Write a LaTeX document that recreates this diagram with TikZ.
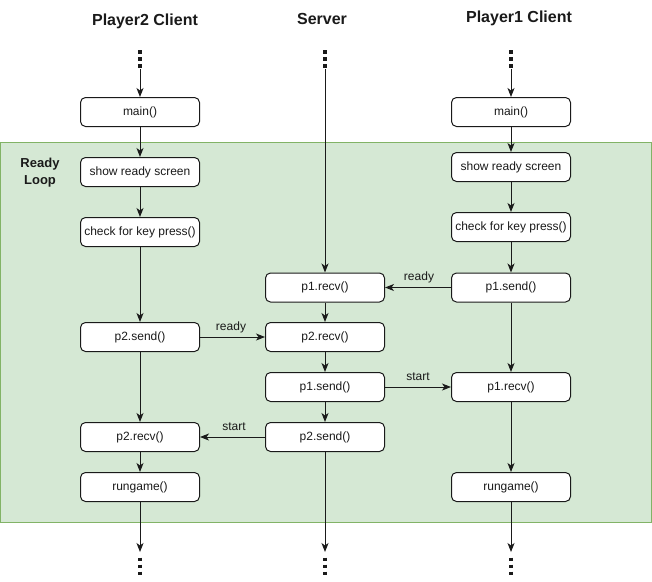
\documentclass[tikz,border=0pt]{standalone}
\usepackage{fontspec}
\setmainfont{Liberation Sans}
\usetikzlibrary{arrows.meta}
\definecolor{loopfill}{HTML}{D5E8D4}
\definecolor{loopdraw}{HTML}{82B366}
\definecolor{ink}{HTML}{1A1A1A}
\begin{document}
\begin{tikzpicture}[x=1pt,y=-1pt,
 box/.style={draw=ink, line width=1pt, fill=white, rounded corners=5pt, minimum width=119pt, minimum height=29pt, inner sep=0pt, text=ink, font=\fontsize{12}{14}\selectfont},
 flow/.style={draw=ink, line width=1pt, -{Stealth[length=9pt,width=7pt,inset=2.5pt]}},
 dotline/.style={draw=ink, line width=3.5pt, dash pattern=on 3.5pt off 3.5pt},
 title/.style={font=\fontsize{16}{19}\selectfont\bfseries, text=ink},
 lbl/.style={font=\fontsize{12}{14}\selectfont, text=ink, inner sep=0pt}]
\useasboundingbox (0,0) rectangle (652,581);
\fill[white] (0,0) rectangle (652,581);
% ready loop region
\draw[fill=loopfill, draw=loopdraw, line width=1pt] (0.5,142) rectangle (651,522);
\node[font=\fontsize{13}{17}\selectfont\bfseries, align=center, text=ink] (rl) at (40,173) {Ready\\Loop};
% titles
\node[title] (t2) at (145,21) {Player2 Client};
\node[title] (ts) at (322,19) {Server};
\node[title] (t1) at (519,18) {Player1 Client};
% left column (Player2)
\node[box] (lmain) at (140,112) {main()};
\node[box] (lshow) at (140,172) {show ready screen};
\node[box] (lchk) at (140,232) {check for key press()};
\node[box] (lsend) at (140,337) {p2.send()};
\node[box] (lrecv) at (140,437) {p2.recv()};
\node[box] (lrun) at (140,487) {rungame()};
% server
\node[box] (s1r) at (325,287.5) {p1.recv()};
\node[box] (s2r) at (325,337) {p2.recv()};
\node[box] (s1s) at (325,387) {p1.send()};
\node[box] (s2s) at (325,437) {p2.send()};
% right column (Player1)
\node[box] (rmain) at (511,112) {main()};
\node[box] (rshow) at (511,167) {show ready screen};
\node[box] (rchk) at (511,227) {check for key press()};
\node[box] (rsend) at (511,287.5) {p1.send()};
\node[box] (rrecv) at (511,387) {p1.recv()};
\node[box] (rrun) at (511,487) {rungame()};
% top dots and entry coordinates
\coordinate (ld1) at (140,50); \coordinate (ld2) at (140,68); \coordinate (la) at (140,69);
\coordinate (sd1) at (325,50); \coordinate (sd2) at (325,68); \coordinate (sa) at (325,69);
\coordinate (rd1) at (511,50); \coordinate (rd2) at (511,68); \coordinate (ra) at (511,69);
\draw[dotline] (ld1) -- (ld2);
\draw[dotline] (sd1) -- (sd2);
\draw[dotline] (rd1) -- (rd2);
% bottom coordinates and dots
\coordinate (lb) at (140,552); \coordinate (lb1) at (140,557.5); \coordinate (lb2) at (140,578);
\coordinate (sb) at (325,552); \coordinate (sb1) at (325,557.5); \coordinate (sb2) at (325,578);
\coordinate (rb) at (511,552); \coordinate (rb1) at (511,557.5); \coordinate (rb2) at (511,578);
\draw[dotline] (lb1) -- (lb2);
\draw[dotline] (sb1) -- (sb2);
\draw[dotline] (rb1) -- (rb2);
% left flow
\draw[flow] (la) -- (lmain);
\draw[flow] (lmain) -- (lshow);
\draw[flow] (lshow) -- (lchk);
\draw[flow] (lchk) -- (lsend);
\draw[flow] (lsend) -- (lrecv);
\draw[flow] (lrecv) -- (lrun);
\draw[flow] (lrun) -- (lb);
% server flow
\draw[flow] (sa) -- (s1r);
\draw[flow] (s1r) -- (s2r);
\draw[flow] (s2r) -- (s1s);
\draw[flow] (s1s) -- (s2s);
\draw[flow] (s2s) -- (sb);
% right flow
\draw[flow] (ra) -- (rmain);
\draw[flow] (rmain) -- (rshow);
\draw[flow] (rshow) -- (rchk);
\draw[flow] (rchk) -- (rsend);
\draw[flow] (rsend) -- (rrecv);
\draw[flow] (rrecv) -- (rrun);
\draw[flow] (rrun) -- (rb);
% messages
\draw[flow] (rsend) -- (s1r);
\draw[flow] (lsend) -- (s2r);
\draw[flow] (s1s) -- (rrecv);
\draw[flow] (s2s) -- (lrecv);
\node[lbl] (m1) at (419,277) {ready};
\node[lbl] (m2) at (231,327) {ready};
\node[lbl] (m3) at (418,377) {start};
\node[lbl] (m4) at (234,427) {start};
\end{tikzpicture}
\end{document}
